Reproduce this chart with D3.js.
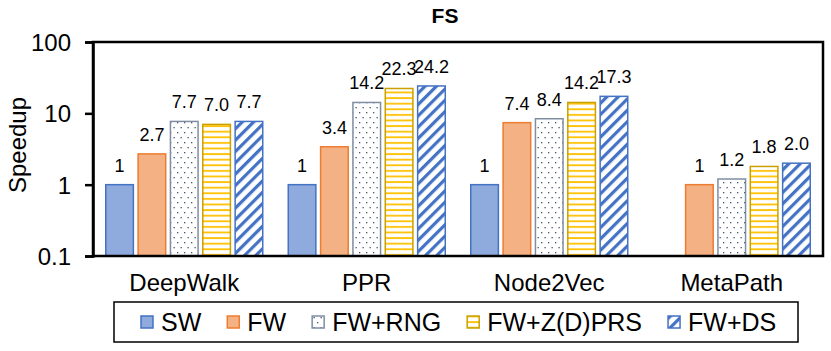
<!DOCTYPE html>
<html>
<head>
<meta charset="utf-8">
<script src="https://cdn.jsdelivr.net/npm/d3@7"></script>
<style>
    body { margin: 0; background: #fff; }
    text { font-family: "Liberation Sans", Arial, sans-serif; fill: #000; }
</style>
</head>
<body>
<div id="chart"></div>
<script>
// data
const categories = ["DeepWalk", "PPR", "Node2Vec", "MetaPath"];
const seriesNames = ["SW", "FW", "FW+RNG", "FW+Z(D)PRS", "FW+DS"];
const swValues = [1, 1, 1, null];
const fwValues = [2.7, 3.4, 7.4, 1];
const rngValues = [7.7, 14.2, 8.4, 1.2];
const zprsValues = [7.0, 22.3, 14.2, 1.8];
const dsValues = [7.7, 24.2, 17.3, 2.0];
const yTicks = [0.1, 1, 10, 100];

const seriesValues = [swValues, fwValues, rngValues, zprsValues, dsValues];

let width = 831, height = 351;
let margin = {top: 42, right: 8, bottom: 95, left: 93};

let svg = d3.select("#chart").append("svg")
    .attr("width", width)
    .attr("height", height);

// patterns for the hatched bars
let defs = svg.append("defs");

let dots = defs.append("pattern")
    .attr("id", "pat-rng")
    .attr("patternUnits", "userSpaceOnUse")
    .attr("width", 7).attr("height", 10);
dots.append("rect").attr("width", 7).attr("height", 10).attr("fill", "#fff");
dots.append("rect").attr("x", 2).attr("y", 2).attr("width", 1.3).attr("height", 1.3).attr("fill", "#44546A");
dots.append("rect").attr("x", 5.5).attr("y", 7).attr("width", 1.3).attr("height", 1.3).attr("fill", "#44546A");

let hlines = defs.append("pattern")
    .attr("id", "pat-zprs")
    .attr("patternUnits", "userSpaceOnUse")
    .attr("width", 8).attr("height", 5.6);
hlines.append("rect").attr("width", 8).attr("height", 5.6).attr("fill", "#fff");
hlines.append("rect").attr("y", 2).attr("width", 8).attr("height", 1.8).attr("fill", "#FFC000");

let diag = defs.append("pattern")
    .attr("id", "pat-ds")
    .attr("patternUnits", "userSpaceOnUse")
    .attr("width", 8).attr("height", 8)
    .attr("patternTransform", "rotate(45)");
diag.append("rect").attr("width", 8).attr("height", 8).attr("fill", "#fff");
diag.append("rect").attr("x", 0).attr("width", 3.2).attr("height", 8).attr("fill", "#4472C4");

const fills = ["#8FAADC", "#F4B183", "url(#pat-rng)", "url(#pat-zprs)", "url(#pat-ds)"];
const strokes = ["#4472C4", "#ED7D31", "#7F8DA3", "#C9A000", "#4472C4"];

// scales
let x0 = d3.scaleBand()
    .domain(categories)
    .range([margin.left, width - margin.right]);

let x1 = d3.scaleBand()
    .domain(seriesNames)
    .range([12, x0.bandwidth() - 12])
    .paddingInner(0.1);

let y = d3.scaleLog()
    .domain([0.1, 100])
    .range([height - margin.bottom, margin.top]);

// bars
let rows = [];
categories.forEach((c, i) => {
    seriesNames.forEach((s, j) => {
        let v = seriesValues[j][i];
        if (v != null) rows.push({cat: c, series: s, idx: j, value: v});
    });
});

svg.append("g")
    .selectAll("rect")
    .data(rows)
    .enter().append("rect")
    .attr("x", d => x0(d.cat) + x1(d.series) + 0.75)
    .attr("y", d => y(d.value))
    .attr("width", x1.bandwidth() - 1.5)
    .attr("height", d => y(0.1) - y(d.value))
    .attr("fill", d => fills[d.idx])
    .attr("stroke", d => strokes[d.idx])
    .attr("stroke-width", 1.5);

// value labels
svg.append("g")
    .selectAll("text")
    .data(rows)
    .enter().append("text")
    .attr("x", d => x0(d.cat) + x1(d.series) + x1.bandwidth() / 2)
    .attr("y", d => y(d.value) - 13)
    .attr("text-anchor", "middle")
    .style("font-size", "18px")
    .text(d => d.value === 1 ? "1" : d.value.toFixed(1));

// frame
svg.append("rect")
    .attr("x", margin.left)
    .attr("y", margin.top)
    .attr("width", width - margin.left - margin.right)
    .attr("height", height - margin.top - margin.bottom)
    .attr("fill", "none")
    .attr("stroke", "#000")
    .attr("stroke-width", 2.5);

// y axis
let yAxis = d3.axisLeft(y)
    .tickValues(yTicks)
    .tickSize(8)
    .tickPadding(14)
    .tickFormat(d => String(d));

let yg = svg.append("g")
    .attr("transform", `translate(${margin.left}, 0)`)
    .call(yAxis);
yg.select(".domain").attr("stroke-width", 2.5);
yg.selectAll(".tick line").attr("stroke-width", 2.5);
yg.selectAll(".tick text")
    .style("font-size", "24px")
    .style("font-family", "Liberation Sans, Arial, sans-serif")
    .attr("dy", "0.36em");

// x category labels
svg.append("g")
    .selectAll("text")
    .data(categories)
    .enter().append("text")
    .attr("x", d => x0(d) + x0.bandwidth() / 2)
    .attr("y", 291)
    .attr("text-anchor", "middle")
    .style("font-size", "24px")
    .text(d => d);

// title
svg.append("text")
    .attr("x", 445)
    .attr("y", 23)
    .attr("text-anchor", "middle")
    .style("font-size", "21px")
    .style("font-weight", "bold")
    .text("FS");

// y axis title
svg.append("text")
    .attr("transform", `translate(26, 145) rotate(-90)`)
    .attr("text-anchor", "middle")
    .style("font-size", "24px")
    .text("Speedup");

// legend
let legend = svg.append("g");
legend.append("rect")
    .attr("x", 114).attr("y", 302)
    .attr("width", 684).attr("height", 40)
    .attr("fill", "#fff")
    .attr("stroke", "#000")
    .attr("stroke-width", 1.5);

let lx = 141;
seriesNames.forEach((s, j) => {
    legend.append("rect")
        .attr("x", lx).attr("y", 316)
        .attr("width", 12).attr("height", 12)
        .attr("fill", fills[j])
        .attr("stroke", strokes[j])
        .attr("stroke-width", 1.5);
    let t = legend.append("text")
        .attr("x", lx + 20)
        .attr("y", 331)
        .style("font-size", "25px")
        .text(s);
    lx += 20 + t.node().getComputedTextLength() + 26;
});
</script>
</body>
</html>
